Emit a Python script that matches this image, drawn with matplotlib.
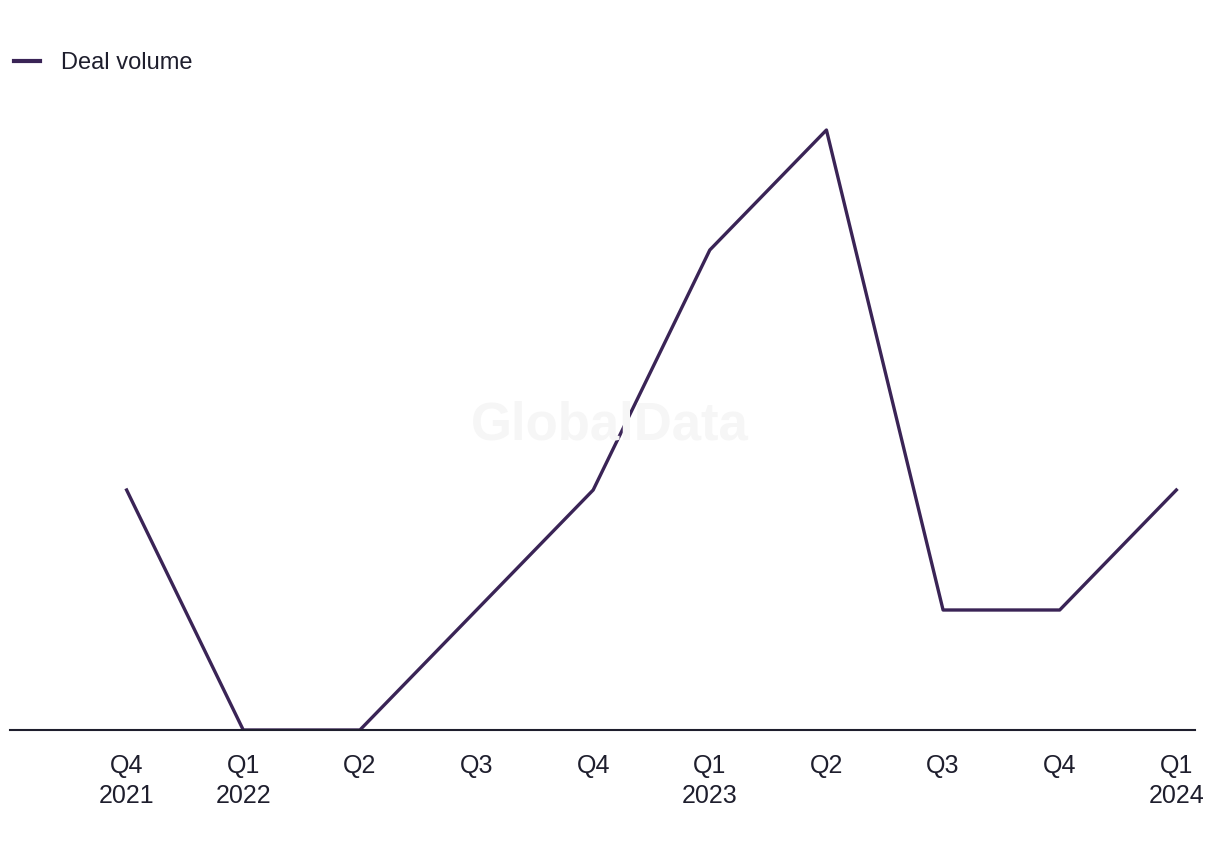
import matplotlib.pyplot as plt
from matplotlib.lines import Line2D

plt.rcParams["font.family"] = ["Liberation Sans", "DejaVu Sans"]

quarters = ["Q4\n2021", "Q1\n2022", "Q2", "Q3", "Q4", "Q1\n2023", "Q2", "Q3", "Q4", "Q1\n2024"]
deal_volume = [2, 0, 0, 1, 2, 4, 5, 1, 1, 2]

LINE_COLOR = "#3a2456"
TEXT_COLOR = "#1e1e2d"

fig = plt.figure(figsize=(12.2, 8.5), dpi=100)
ax = fig.add_axes([10 / 1220, 1 - 730 / 850, 1185 / 1220, 660 / 850])

for side in ["top", "left", "right"]:
    ax.spines[side].set_visible(False)
ax.spines["bottom"].set_position(("data", 0))
ax.spines["bottom"].set_color(TEXT_COLOR)
ax.spines["bottom"].set_linewidth(1.5)
ax.spines["bottom"].set_zorder(4)

x = list(range(len(quarters)))
ax.plot(x, deal_volume, color=LINE_COLOR, linewidth=2.4, zorder=3)

ax.set_xlim(-1.0, 9.16)
ax.set_ylim(0, 5.5)
ax.set_xticks(x)
ax.set_xticklabels(quarters, linespacing=1.35)
ax.set_yticks([])
ax.tick_params(axis="x", length=0, pad=17, labelsize=18, labelcolor=TEXT_COLOR)

fig.text(610 / 1220, 1 - 425 / 850, "GlobalData", fontsize=38, fontweight="bold",
         color="#f6f6f6", ha="center", va="center", zorder=0)

handle = Line2D([], [], color=LINE_COLOR, linewidth=3)
fig.legend([handle], ["Deal volume"], loc="upper left", bbox_to_anchor=(0.0, 0.955),
           frameon=False, fontsize=17, handlelength=1.1, handletextpad=0.9,
           labelcolor=TEXT_COLOR, borderaxespad=0.2)

fig.savefig("out.png", dpi=100)
